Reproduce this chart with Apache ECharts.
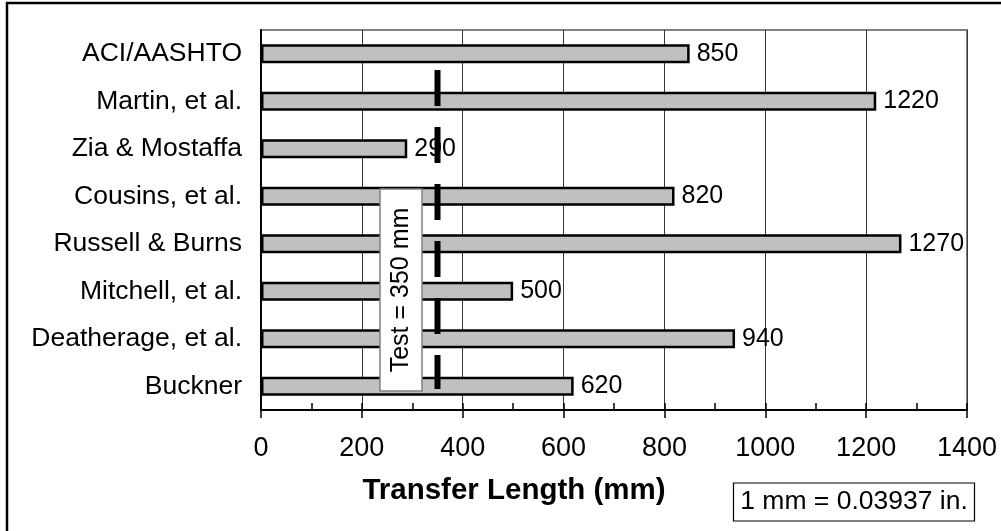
<!DOCTYPE html>
<html>
<head>
<meta charset="utf-8">
<script src="https://cdn.jsdelivr.net/npm/echarts@6/dist/echarts.min.js"></script>
<style>
  html, body { margin: 0; padding: 0; background: #fff; }
  #chart { width: 1001px; height: 531px; }
</style>
</head>
<body>
<div id="chart"></div>
<script>
// Transfer length predicted by each design expression (mm)
const methods = [
  'ACI/AASHTO', 'Martin, et al.', 'Zia & Mostaffa', 'Cousins, et al.',
  'Russell & Burns', 'Mitchell, et al.', 'Deatherage, et al.', 'Buckner'
];
const transferLength = [850, 1220, 290, 820, 1270, 500, 940, 620];

// Measured test value, drawn as a dashed vertical reference line
const testLength = 350;
const testLineSpan = [7.16, 0.44];   // vertical extent on the hidden 0..8 row scale

const xTicks = [0, 200, 400, 600, 800, 1000, 1200, 1400];

const FONT = "'Liberation Sans', Arial, sans-serif";

const chart = echarts.init(document.getElementById('chart'), null, { renderer: 'canvas' });

chart.setOption({
  animation: false,
  backgroundColor: '#fff',
  textStyle: { fontFamily: FONT, color: '#000' },
  grid: {
    left: 261, right: 34, top: 30, bottom: 121,
    show: true, borderColor: '#808080', borderWidth: 2, backgroundColor: 'transparent'
  },
  xAxis: [
    {
      type: 'value',
      min: xTicks[0], max: xTicks[xTicks.length - 1], interval: 200,
      axisLine: { show: true, lineStyle: { color: '#000', width: 2 } },
      axisTick: { show: true, inside: false, length: 8, lineStyle: { color: '#000', width: 1.5 } },
      axisLabel: {
        fontSize: 27, color: '#000', margin: 25, fontFamily: FONT,
        formatter: v => String(v)
      },
      splitLine: { show: true, lineStyle: { color: '#3a3a3a', width: 1 } }
    },
    {
      // minor ticks every 100 mm, pointing into the plot
      type: 'value', position: 'bottom',
      min: 0, max: 1400, interval: 100,
      axisLine: { show: false },
      axisTick: { show: true, inside: true, length: 7, lineStyle: { color: '#000', width: 1.5 } },
      axisLabel: { show: false },
      splitLine: { show: false }
    }
  ],
  yAxis: [
    {
      type: 'category', data: methods, inverse: true,
      axisLine: { show: true, lineStyle: { color: '#000', width: 2 } },
      axisTick: { show: false },
      axisLabel: { fontSize: 26.5, color: '#000', margin: 19, fontFamily: FONT },
      splitLine: { show: false }
    },
    {
      type: 'value', min: 0, max: 8, show: false
    }
  ],
  series: [
    {
      type: 'bar',
      data: transferLength,
      barWidth: 19,
      itemStyle: { color: '#c0c0c0', borderColor: '#000', borderWidth: 2.5 },
      label: {
        show: true, position: 'right', distance: 7,
        fontSize: 25, color: '#000', fontFamily: FONT
      },
      z: 2
    },
    {
      type: 'line',
      xAxisIndex: 0, yAxisIndex: 1,
      data: testLineSpan.map(v => [testLength, v]),
      symbol: 'none',
      lineStyle: { color: '#000', width: 6, type: [36, 21], cap: 'butt' },
      z: 5
    }
  ],
  graphic: [
    {
      type: 'rect', z: 10,
      shape: { x: 380, y: 189, width: 42, height: 202 },
      style: { fill: '#fff', stroke: '#808080', lineWidth: 1.5 }
    },
    {
      type: 'text', z: 11,
      x: 401, y: 290, rotation: Math.PI / 2,
      style: {
        text: 'Test = 350 mm', fontSize: 25, fontFamily: FONT, fill: '#000',
        align: 'center', verticalAlign: 'middle'
      }
    },
    {
      type: 'text', z: 11,
      x: 514, y: 491,
      style: {
        text: 'Transfer Length (mm)', fontSize: 29.5, fontWeight: 'bold', fontFamily: FONT,
        fill: '#000', align: 'center', verticalAlign: 'middle'
      }
    },
    {
      type: 'rect', z: 10,
      shape: { x: 733.5, y: 483, width: 241, height: 38 },
      style: { fill: '#fff', stroke: '#000', lineWidth: 1.2 }
    },
    {
      type: 'text', z: 11,
      x: 854, y: 502,
      style: {
        text: '1 mm = 0.03937 in.', fontSize: 26.5, fontFamily: FONT, fill: '#000',
        align: 'center', verticalAlign: 'middle'
      }
    },
    {
      type: 'rect', z: 12,
      shape: { x: 7, y: 3, width: 1100, height: 600 },
      style: { fill: 'none', stroke: '#000', lineWidth: 2.5 }
    }
  ]
});
</script>
</body>
</html>
